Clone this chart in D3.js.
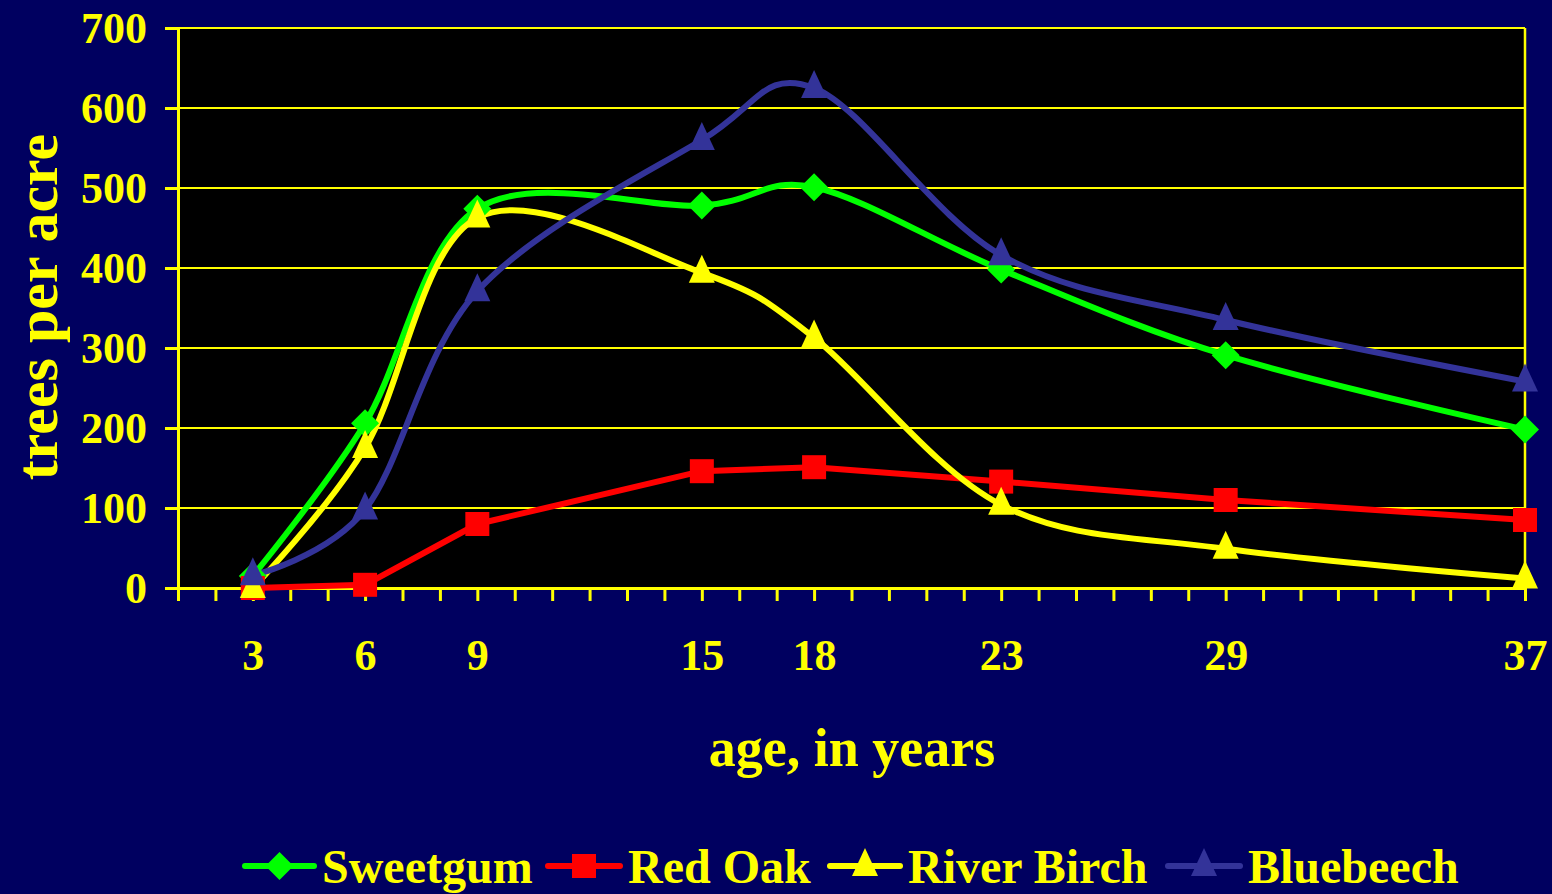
<!DOCTYPE html>
<html><head><meta charset="utf-8">
<script src="https://cdn.jsdelivr.net/npm/d3@7"></script>
<style>html,body{margin:0;padding:0;background:#000060;overflow:hidden}</style>
</head><body><svg id="c" width="1552" height="894"></svg>
<script>
const ages = [3, 6, 9, 15, 18, 23, 29, 37];
const sweetgum   = [15, 206, 474, 478, 501, 398, 291, 198];
const redOak     = [0, 4, 80, 146, 151, 133, 110, 85];
const riverBirch = [0, 175, 463, 394, 313, 104, 49, 12];
const bluebeech  = [16, 98, 371, 560, 625, 416, 335, 258];
const yTicks = [0, 100, 200, 300, 400, 500, 600, 700];
const seriesNames = ["Sweetgum", "Red Oak", "River Birch", "Bluebeech"];

const series = [
  {name: seriesNames[0], values: sweetgum, color: "#00ff00", marker: "diamond", smooth: true},
  {name: seriesNames[1], values: redOak, color: "#ff0000", marker: "square", smooth: false},
  {name: seriesNames[2], values: riverBirch, color: "#ffff00", marker: "triangle", smooth: true},
  {name: seriesNames[3], values: bluebeech, color: "#333399", marker: "triangle", smooth: true}
];

const svg = d3.select("#c");
const L = 178, R = 1525, T = 28, B = 588;
const x = d3.scaleLinear().domain([1, 37]).range([L, R]);
const y = d3.scaleLinear().domain([0, 700]).range([B, T]);
const FONT = "'Liberation Serif','Times New Roman',serif";
const YEL = "#ffff00";

svg.append("rect").attr("x", L).attr("y", T).attr("width", R - L).attr("height", B - T).attr("fill", "#000");

svg.append("g").selectAll("line").data(yTicks.filter(d => d > 0)).join("line")
  .attr("x1", L).attr("x2", R).attr("y1", d => y(d)).attr("y2", d => y(d))
  .attr("stroke", YEL).attr("stroke-width", 2);
svg.append("line").attr("x1", R).attr("x2", R).attr("y1", T).attr("y2", B).attr("stroke", YEL).attr("stroke-width", 2.5);

const yAxis = svg.append("g").attr("transform", `translate(${L},0)`)
  .call(d3.axisLeft(y).tickValues(yTicks).tickSize(13).tickPadding(18));
yAxis.select(".domain").attr("stroke", YEL).attr("stroke-width", 3);
yAxis.selectAll(".tick line").attr("stroke", YEL).attr("stroke-width", 3);
yAxis.selectAll(".tick text").attr("fill", YEL).attr("font-family", FONT).attr("font-weight", "bold").attr("font-size", 44).attr("dy", "0.33em");

const xAxis = svg.append("g").attr("transform", `translate(0,${B})`)
  .call(d3.axisBottom(x).tickValues(d3.range(1, 38)).tickSize(13).tickFormat(d => ages.includes(d) ? d : ""));
xAxis.select(".domain").attr("stroke", YEL).attr("stroke-width", 3);
xAxis.selectAll(".tick line").attr("stroke", YEL).attr("stroke-width", 3);
xAxis.selectAll(".tick text").attr("fill", YEL).attr("font-family", FONT).attr("font-weight", "bold").attr("font-size", 44).attr("y", 82).attr("dy", 0);

svg.append("text").attr("x", 852).attr("y", 766).attr("text-anchor", "middle")
  .attr("fill", YEL).attr("font-family", FONT).attr("font-weight", "bold").attr("font-size", 54).text("age, in years");
svg.append("text").attr("transform", "translate(57,307) rotate(-90)").attr("text-anchor", "middle")
  .attr("fill", YEL).attr("font-family", FONT).attr("font-weight", "bold").attr("font-size", 60).text("trees per acre");

const lineSmooth = d3.line().x(d => x(d[0])).y(d => y(d[1])).curve(d3.curveCardinal.tension(0));
const lineStraight = d3.line().x(d => x(d[0])).y(d => y(d[1]));

function marker(g, type, cx, cy, color) {
  if (type === "diamond") {
    g.append("path").attr("d", `M${cx},${cy-14}L${cx+14},${cy}L${cx},${cy+14}L${cx-14},${cy}Z`).attr("fill", color);
  } else if (type === "square") {
    g.append("rect").attr("x", cx - 12).attr("y", cy - 12).attr("width", 24).attr("height", 24).attr("fill", color);
  } else {
    g.append("path").attr("d", `M${cx},${cy-18}L${cx+13},${cy+10}L${cx-13},${cy+10}Z`).attr("fill", color);
  }
}

const gS = svg.append("g");
series.forEach(s => {
  const pts = ages.map((a, i) => [a, s.values[i]]);
  gS.append("path").attr("d", (s.smooth ? lineSmooth : lineStraight)(pts)).attr("fill", "none")
    .attr("stroke", s.color).attr("stroke-width", 6).attr("stroke-linejoin", "round");
});
series.forEach(s => {
  const g = gS.append("g");
  ages.forEach((a, i) => marker(g, s.marker, x(a), y(s.values[i]), s.color));
});

const legendX = [245, 548, 830, 1168];
const legendTextX = [322, 628, 908, 1248];
const ly = 866;
series.forEach((s, i) => {
  const g = svg.append("g");
  g.append("line").attr("x1", legendX[i]).attr("x2", legendTextX[i] - 8).attr("y1", ly).attr("y2", ly)
    .attr("stroke", s.color).attr("stroke-width", 6).attr("stroke-linecap", "round");
  marker(g, s.marker, (legendX[i] + legendTextX[i] - 8) / 2, ly, s.color);
  g.append("text").attr("x", legendTextX[i]).attr("y", 883).attr("fill", YEL).attr("font-family", FONT)
    .attr("font-weight", "bold").attr("font-size", 48).text(s.name);
});
</script></body></html>
